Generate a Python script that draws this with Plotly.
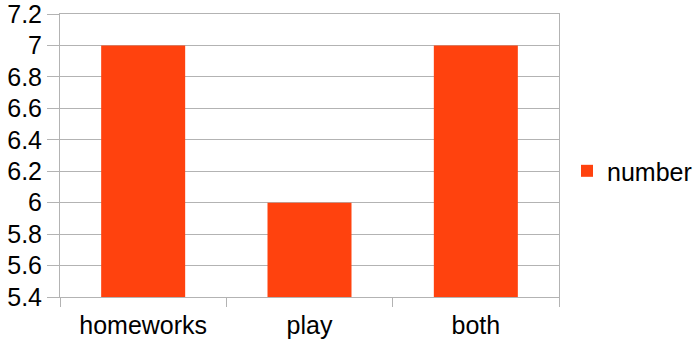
import plotly.graph_objects as go

categories = ["homeworks", "play", "both"]
values = [7, 6, 7]
series_name = "number"
y_ticks = [5.4, 5.6, 5.8, 6.0, 6.2, 6.4, 6.6, 6.8, 7.0, 7.2]
y_tick_labels = ["5.4", "5.6", "5.8", "6", "6.2", "6.4", "6.6", "6.8", "7", "7.2"]

fig = go.Figure()
fig.add_trace(go.Bar(x=categories, y=values, name=series_name,
                     marker=dict(color="#FF420E", line=dict(width=0))))

fig.update_layout(
    width=693, height=346,
    margin=dict(l=60, r=134, t=14, b=49, autoexpand=False),
    paper_bgcolor="white", plot_bgcolor="white",
    font=dict(family="Liberation Sans, Arial, sans-serif", size=25, color="#000000"),
    bargap=0.495,
    showlegend=True,
    legend=dict(x=567/693, xref="container", xanchor="left",
                y=0.445, yanchor="middle",
                font=dict(size=25), bgcolor="rgba(0,0,0,0)"),
)
fig.update_yaxes(range=[5.4, 7.2], tickmode="array", tickvals=y_ticks, ticktext=y_tick_labels,
                 automargin=False, ticklabeloverflow="allow",
                 showgrid=True, gridcolor="#b3b3b3", gridwidth=1,
                 showline=True, linecolor="#b3b3b3", linewidth=1, mirror=True,
                 ticks="outside", ticklen=12, tickcolor="#b3b3b3",
                 zeroline=False)
fig.update_xaxes(showgrid=False, showline=True, linecolor="#b3b3b3", linewidth=1,
                 mirror=True,
                 automargin=False, ticklabelstandoff=6,
                 ticks="outside", tickson="boundaries", ticklen=9, tickcolor="#b3b3b3")

fig.write_html("out.html")
